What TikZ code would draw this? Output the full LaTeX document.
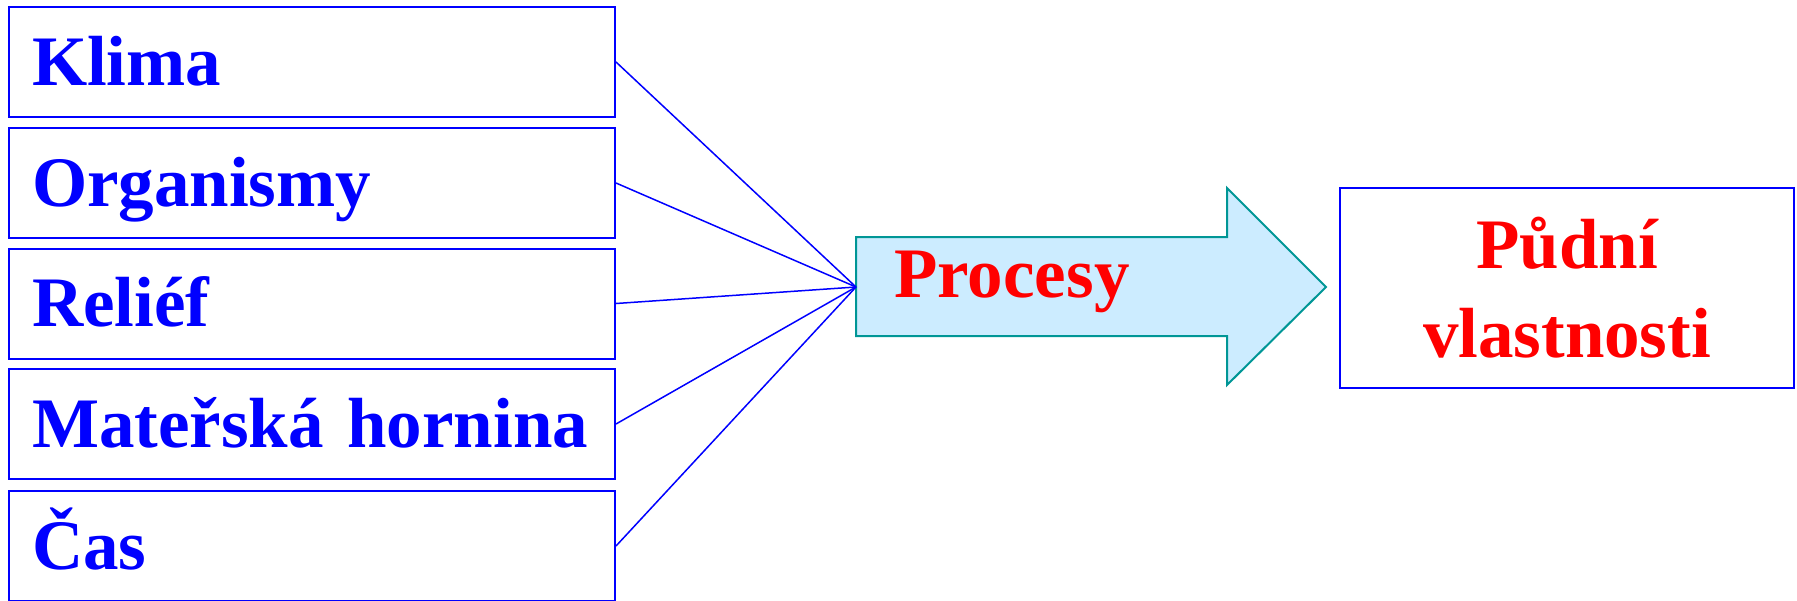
\documentclass[tikz,border=0pt]{standalone}
\usepackage{fontspec}
\setmainfont{Liberation Serif}
\definecolor{pblue}{RGB}{0,0,255}
\definecolor{pred}{RGB}{255,0,0}
\definecolor{afill}{RGB}{204,236,255}
\definecolor{aline}{RGB}{0,150,150}
\begin{document}
\begin{tikzpicture}[x=1pt,y=-1pt,
  bigtext/.style={font=\fontsize{71}{89}\selectfont\bfseries},
  factor/.style={bigtext, draw=pblue, line width=2pt, minimum width=606pt,
    minimum height=110pt, inner xsep=23pt, inner ysep=0pt, text width=560pt,
    align=left, text height=60pt, text depth=14pt, text=pblue},
  result/.style={bigtext, draw=pblue, line width=2pt, minimum width=454pt,
    minimum height=200pt, align=center, text=pred, inner sep=0pt},
  link/.style={draw=pblue, line width=1.5pt},
  bigarrow/.style={draw=aline, fill=afill, line width=2pt, line join=miter}]
\useasboundingbox (0,0) rectangle (1797,600);
\node[factor] (klima) at (312,62) {Klima};
\node[factor] (org) at (312,183) {Organismy};
\node[factor] (relief) at (312,303.5) {Reliéf};
\node[factor] (mat) at (312,424) {Mateřská hornina};
\node[factor] (cas) at (312,546) {Čas};
\draw[bigarrow] (856,237) -- (1227,237) -- (1227,188) -- (1326,287)
  -- (1227,385) -- (1227,336) -- (856,336) -- cycle;
\coordinate (tail) at (856,287);
\node[bigtext, text=pred, anchor=base west, inner sep=0pt] (proc) at (894,297) {Procesy};
\node[result] (pv) at (1567,288) {Půdní\\vlastnosti};
\foreach \n in {klima,org,relief,mat,cas}
  \draw[link] (\n.east) -- (tail);
\end{tikzpicture}
\end{document}
